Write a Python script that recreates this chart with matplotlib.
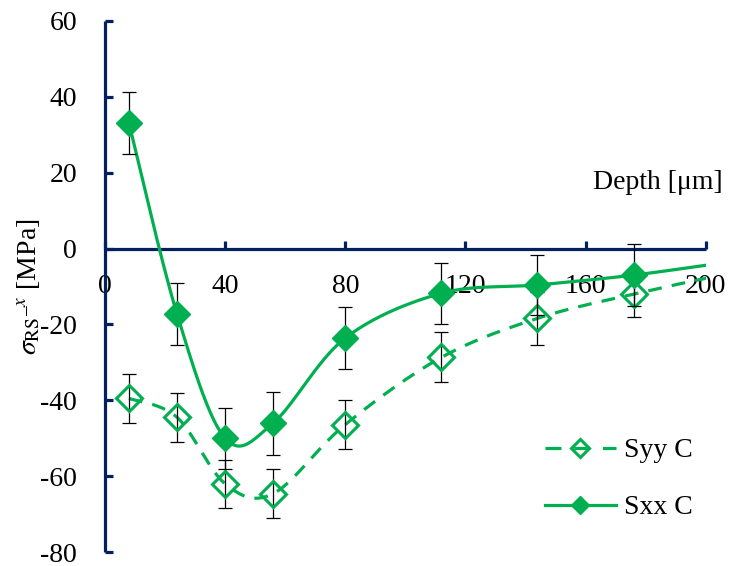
import numpy as np
import matplotlib
matplotlib.use('Agg')
import matplotlib.pyplot as plt

# Data
depth = [8, 24, 40, 56, 80, 112, 144, 176]
sxx = [33.0, -17.3, -50.0, -46.0, -23.6, -11.8, -9.6, -7.0]
syy = [-39.5, -44.5, -62.0, -64.6, -46.4, -28.7, -18.4, -12.0]
sxx_err = [8.2, 8.2, 8.0, 8.3, 8.2, 8.0, 8.0, 8.2]
syy_err = [6.4, 6.4, 6.3, 6.4, 6.4, 6.6, 6.9, 6.0]

# curves continue past the last measurement and are clipped at 200
tail_depth = 208
sxx_tail = -3.5
syy_tail = -6.5

green = '#00B050'
navy = '#002060'

plt.rcParams['font.family'] = ['Liberation Serif', 'DejaVu Serif']
plt.rcParams['mathtext.fontset'] = 'stix'
plt.rcParams['font.size'] = 20
plt.rcParams['axes.unicode_minus'] = False


def smooth(x, y, n=40):
    # Bezier smoothing through the points (like Excel's smoothed lines)
    p = np.column_stack([x, y]).astype(float)
    p = np.vstack([p[0], p, p[-1]])
    t = np.linspace(0, 1, n)[:, None]
    out = []
    for i in range(1, len(p) - 2):
        p0, p1, p2, p3 = p[i - 1], p[i], p[i + 1], p[i + 2]
        c1 = p1 + (p2 - p0) / 6
        c2 = p2 - (p3 - p1) / 6
        seg = (1 - t)**3 * p1 + 3 * (1 - t)**2 * t * c1 + 3 * (1 - t) * t**2 * c2 + t**3 * p2
        out.append(seg)
    s = np.vstack(out)
    return s[:, 0], s[:, 1]


fig = plt.figure(figsize=(7.29, 5.66), dpi=100)
ax = fig.add_axes([0.144, 0.0247, 0.824, 0.9383])

# Syy C (hollow, dashed)
xs, ys = smooth(depth + [tail_depth], syy + [syy_tail])
ax.plot(xs, ys, color=green, lw=2.3, ls=(0, (4.3, 3.2)), zorder=2)
ax.errorbar(depth, syy, yerr=syy_err, fmt='none', ecolor='black', elinewidth=0.9,
            capsize=4.7, capthick=0.9, zorder=3)
ax.plot(depth, syy, ls='none', marker='D', ms=13.3, mfc='none', mec=green, mew=2.2, zorder=4)

# Sxx C (filled, solid)
xs, ys = smooth(depth + [tail_depth], sxx + [sxx_tail])
ax.plot(xs, ys, color=green, lw=2.3, zorder=5)
ax.errorbar(depth, sxx, yerr=sxx_err, fmt='none', ecolor='black', elinewidth=0.9,
            capsize=4.7, capthick=0.9, zorder=5)
ax.plot(depth, sxx, ls='none', marker='D', ms=13.0, mfc=green, mec=green, mew=1.0, zorder=6)

# legend proxies
h_yy, = ax.plot([], [], color=green, lw=2.3, ls=(0, (5, 4)), marker='D', ms=9.5,
                mfc='none', mec=green, mew=2.2)
h_xx, = ax.plot([], [], color=green, lw=2.3, marker='D', ms=9.5, mfc=green, mec=green)
fig.legend([h_yy, h_xx], ['Syy C', 'Sxx C'], loc='upper left',
           bbox_to_anchor=(545 / 729, 1 - 438 / 566), frameon=False,
           borderpad=0, borderaxespad=0, handlelength=2.55, handletextpad=0.3,
           labelspacing=1.13)

ax.set_xlim(0, 200)
ax.set_ylim(-80, 60)
ax.set_xticks([0, 40, 80, 120, 160, 200])
ax.set_yticks(np.arange(-80, 61, 20))

for s in ['top', 'right']:
    ax.spines[s].set_visible(False)
ax.spines['bottom'].set_position(('data', 0))
for s in ['left', 'bottom']:
    ax.spines[s].set_color(navy)
    ax.spines[s].set_linewidth(2.3)
    ax.spines[s].set_capstyle('butt')

ax.tick_params(axis='both', direction='in', length=6, width=2.3, color=navy,
               labelsize=20, labelcolor='black')
ax.tick_params(axis='y', pad=20)
ax.tick_params(axis='x', pad=18)

ax.set_ylabel(r'$\sigma_{\mathrm{RS}}{}^{\_x}$ [MPa]', fontsize=20)
ax.yaxis.set_label_coords(-0.105, 0.5)
ax.text(205.7, 17.3, 'Depth [\u03bcm]', ha='right', va='center', fontsize=20)

fig.savefig('out.png', dpi=100)
